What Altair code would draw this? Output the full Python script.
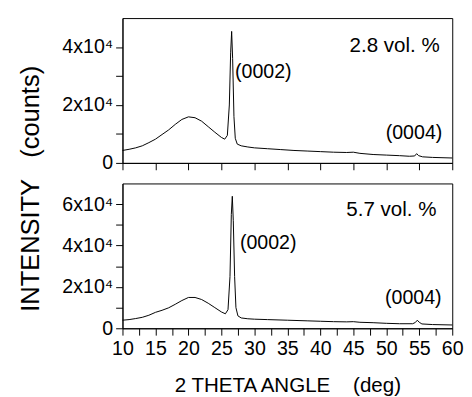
import altair as alt
import pandas as pd

# ---- data ----
angle_a = [10, 11, 12, 13, 14, 15, 16, 17, 18, 19, 20, 21, 22, 23, 24, 25, 25.5, 25.9,
           26.2, 26.4, 26.55, 26.7, 26.9, 27.1, 27.4, 28, 29, 30, 32, 34, 36, 38, 40,
           42, 44, 45, 46, 48, 50, 52, 53.5, 54.3, 54.6, 54.9, 55.5, 57, 60]
int_a = [4300, 4700, 5200, 5900, 7000, 8200, 9800, 11400, 13300, 15000, 15900, 15600,
         14400, 12500, 10600, 8800, 8200, 9500, 20000, 38000, 45400, 36000, 16000, 8500,
         6500, 5900, 5500, 5200, 4900, 4600, 4300, 4100, 3900, 3700, 3600, 3700, 3300,
         2900, 2700, 2500, 2300, 2400, 3200, 2500, 2100, 1900, 1700]

angle_b = [10, 11, 12, 13, 14, 15, 16, 17, 18, 19, 20, 21, 22, 23, 24, 25, 25.6, 26.0,
           26.3, 26.5, 26.65, 26.8, 27.0, 27.2, 27.5, 28, 29, 30, 32, 35, 38, 40, 42,
           44, 45, 46, 48, 50, 52, 54, 54.4, 54.7, 55.0, 55.4, 57, 60]
int_b = [3900, 4200, 4700, 5300, 6300, 7700, 8700, 9900, 11600, 13400, 14900, 14900,
         13900, 12100, 10000, 7900, 7000, 9000, 25000, 55000, 63800, 52000, 25000, 10000,
         6000, 5000, 4600, 4400, 4200, 3900, 3600, 3400, 3200, 3100, 3200, 2900, 2700,
         2400, 2200, 2200, 2800, 3900, 2900, 2100, 1800, 1600]

ann_a_text = ["2.8 vol. %", "(0002)", "(0004)"]
ann_a_x = [58.1, 27.06, 54.2]
ann_a_y = [38300, 31300, 10200]

ann_b_text = ["5.7 vol. %", "(0002)", "(0004)"]
ann_b_x = [57.6, 27.8, 54.1]
ann_b_y = [54400, 41400, 14400]

x_ticks = [10, 12.5, 15, 17.5, 20, 22.5, 25, 27.5, 30, 32.5, 35, 37.5, 40, 42.5, 45,
           47.5, 50, 52.5, 55, 57.5, 60]
x_ticks_top = [10, 15, 20, 25, 30, 35, 40, 45, 50, 55, 60]
y_ticks_a = [0, 10000, 20000, 30000, 40000]
y_ticks_b = [0, 10000, 20000, 30000, 40000, 50000, 60000]

FONT = "Liberation Sans"
NB = "\u00a0"
Y_LABEL_EXPR = ("datum.value == 0 ? '0' : (datum.value % 20000 == 0 ? "
                "(datum.value / 10000) + 'x10\u2074' : '')")
X_LABEL_EXPR = "datum.value % 5 == 0 ? format(datum.value, 'd') : ''"


def panel(angles, ints, ymax, yticks, atext, ax, ay, bottom):
    kinds = ["line"] * len(angles) + ["big", "p2", "p4"]
    df = pd.DataFrame({
        "angle": list(angles) + list(ax),
        "intensity": list(ints) + list(ay),
        "kind": kinds,
        "label": [""] * len(angles) + list(atext),
    })

    if bottom:
        xaxis = alt.Axis(values=x_ticks, labelExpr=X_LABEL_EXPR,
                         title="2 THETA ANGLE" + NB * 4 + "(deg)", titleFontSize=21,
                         titleFont=FONT, titleFontWeight="normal", titleColor="black",
                         titlePadding=17, labelFontSize=20, labelFont=FONT,
                         labelColor="black", labelPadding=4, labelFlush=False,
                         labelOverlap=False, tickSize=7,
                         tickColor="black", domainColor="black", grid=False)
        yaxis = alt.Axis(values=yticks, labelExpr=Y_LABEL_EXPR, title=None,
                         labelFontSize=20, labelFont=FONT, labelColor="black",
                         labelPadding=3, labelOverlap=False, labelFlush=False,
                         tickSize=7, tickColor="black", domainColor="black", grid=False)
    else:
        xaxis = alt.Axis(values=x_ticks_top, labels=False, title=None, tickSize=7,
                         tickColor="black", domainColor="black", grid=False)
        yaxis = alt.Axis(values=yticks, labelExpr=Y_LABEL_EXPR,
                         title="INTENSITY" + NB * 3 + "(counts)", titleFontSize=26,
                         titleFont=FONT, titleFontWeight="normal", titleColor="black",
                         titleY=174, titleAlign="center", titlePadding=19,
                         labelFontSize=20, labelFont=FONT, labelColor="black",
                         labelPadding=3, labelOverlap=False, labelFlush=False,
                         tickSize=7, tickColor="black", domainColor="black", grid=False)

    xs = alt.Scale(domain=[10, 60], nice=False, zero=False)
    ys = alt.Scale(domain=[0, ymax], nice=False)

    line = alt.Chart().mark_line(color="black", strokeWidth=1).encode(
        order="angle:Q"
    ).transform_filter(alt.datum.kind == "line")

    def txt(kind, align, baseline, size):
        return alt.Chart().mark_text(
            font=FONT, fontSize=size, color="black", align=align, baseline=baseline
        ).encode(text="label:N").transform_filter(alt.datum.kind == kind)

    big = txt("big", "right", "alphabetic", 21)
    peak2 = txt("p2", "left", "middle", 20)
    peak4 = txt("p4", "center", "middle", 20)

    return alt.layer(line, big, peak2, peak4, data=df).encode(
        x=alt.X("angle:Q", scale=xs, axis=xaxis),
        y=alt.Y("intensity:Q", scale=ys, axis=yaxis),
    ).properties(width=337, height=148)


top = panel(angle_a, int_a, 50000, y_ticks_a, ann_a_text, ann_a_x, ann_a_y, False)
bot = panel(angle_b, int_b, 70000, y_ticks_b, ann_b_text, ann_b_x, ann_b_y, True)

chart = alt.vconcat(top, bot, spacing=21, bounds="flush").properties(
    padding={"left": 9, "top": 5, "right": 0, "bottom": 0},
    background="white",
).configure_view(stroke="black", strokeWidth=1).configure_axis(
    domainWidth=1, tickWidth=1, labelOverlap=False
)

chart.save("out.html", embed_options={"renderer": "svg", "actions": False})
